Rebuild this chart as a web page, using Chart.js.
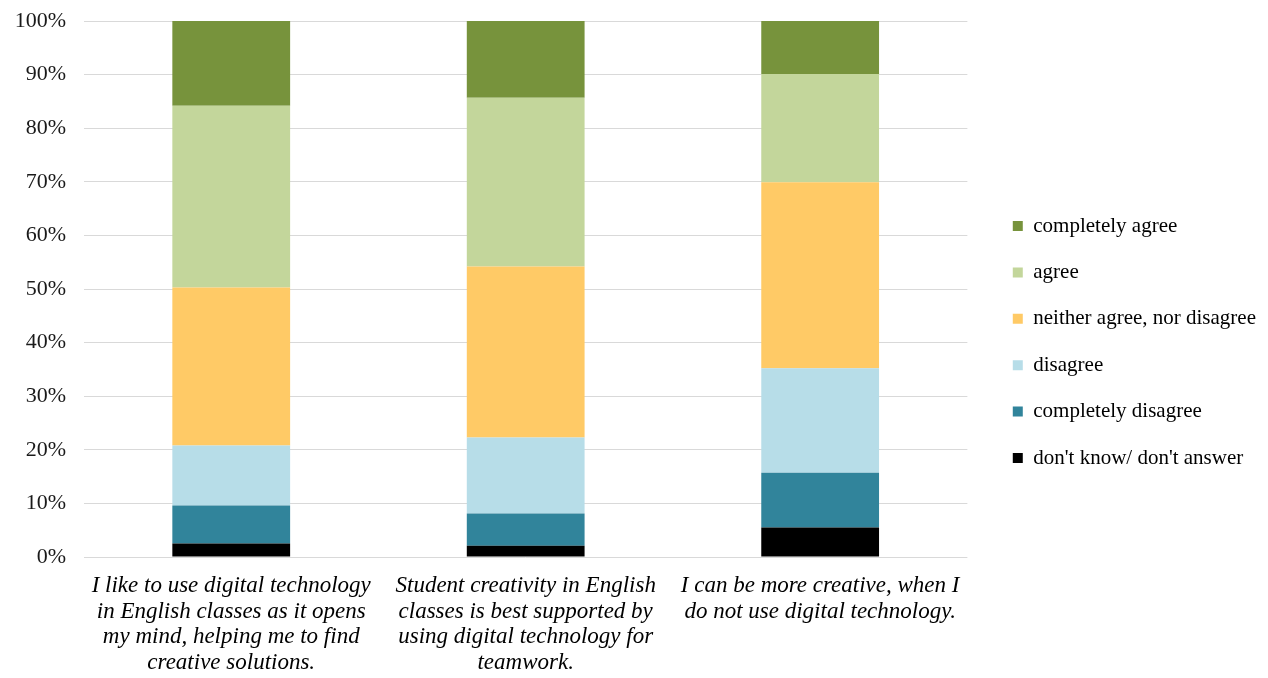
<!DOCTYPE html>
<html>
<head>
<meta charset="utf-8">
<script src="https://cdn.jsdelivr.net/npm/chart.js@4.4.1/dist/chart.umd.min.js"></script>
<style>
  html, body { margin: 0; padding: 0; background: #ffffff; }
  #wrap { width: 1268px; height: 678px; position: relative; }
</style>
</head>
<body>
<div id="wrap"><canvas id="chart"></canvas></div>
<script>
// Survey statements (x categories), wrapped onto several lines
const statements = [
  ["I like to use digital technology", "in English classes as it opens", "my mind, helping me to find", "creative solutions."],
  ["Student creativity in English", "classes is best supported by", "using digital technology for", "teamwork."],
  ["I can be more creative, when I", "do not use digital technology."]
];

// Answer options, from the bottom of each stack to the top
const responseLabels = [
  "don't know/ don't answer",
  "completely disagree",
  "disagree",
  "neither agree, nor disagree",
  "agree",
  "completely agree"
];

// Share of respondents per answer (%), one value per statement
const dontKnow           = [2.5, 2.1, 5.5];
const completelyDisagree = [7.1, 6.0, 10.2];
const disagree           = [11.2, 14.2, 19.5];
const neither            = [29.5, 31.9, 34.7];
const agree              = [33.9, 31.5, 20.2];
const completelyAgree    = [15.8, 14.3, 9.9];

// Percentage axis ticks
const percentTicks = [0, 10, 20, 30, 40, 50, 60, 70, 80, 90, 100];

const seriesValues = [dontKnow, completelyDisagree, disagree, neither, agree, completelyAgree];
const seriesColors = ["#000000", "#31849B", "#B7DDE8", "#FFCA66", "#C3D69B", "#77933C"];

const serif = "'Liberation Serif', 'Times New Roman', serif";

const datasets = responseLabels.map((label, i) => ({
  label: label,
  data: seriesValues[i],
  backgroundColor: seriesColors[i],
  borderWidth: 0,
  categoryPercentage: 1.0,
  barPercentage: 0.4
}));

// Leave a blank strip between the plot and the legend: the legend box reserves
// the space, then its contents are drawn a little further right (and nudged up
// so the column stays centred on the page rather than on the padded area).
const LEGEND_SHIFT_X = 20;
const LEGEND_SHIFT_Y = -7.5;
const legendGap = {
  id: "legendGap",
  afterLayout(chart) {
    const lg = chart.legend;
    if (lg) {
      lg.left += LEGEND_SHIFT_X;
      lg.right += LEGEND_SHIFT_X;
      lg.top += LEGEND_SHIFT_Y;
      lg.bottom += LEGEND_SHIFT_Y;
    }
  }
};

new Chart(document.getElementById("chart"), {
  type: "bar",
  data: { labels: statements, datasets: datasets },
  plugins: [legendGap],
  options: {
    responsive: true,
    maintainAspectRatio: false,
    animation: false,
    layout: { padding: { top: 21, right: 22, bottom: 0, left: 0 } },
    plugins: {
      tooltip: { enabled: false },
      legend: {
        position: "right",
        reverse: true,
        labels: {
          boxWidth: 10,
          boxHeight: 10,
          padding: 25.4,
          color: "#000000",
          font: { family: serif, size: 21 }
        }
      }
    },
    scales: {
      x: {
        stacked: true,
        grid: { display: false },
        border: { display: false },
        ticks: {
          color: "#000000",
          maxRotation: 0,
          autoSkip: false,
          padding: 8,
          font: { family: serif, size: 23, style: "italic", lineHeight: 1.12 }
        },
        afterFit: (scale) => { scale.height = 121; }
      },
      y: {
        stacked: true,
        min: 0,
        max: 100,
        afterBuildTicks: (scale) => { scale.ticks = percentTicks.map(v => ({ value: v })); },
        afterFit: (scale) => {
          scale.width = 84;
          scale.paddingTop = 0;
          scale.paddingBottom = 0;
        },
        grid: { color: "#d9d9d9", lineWidth: 1, drawTicks: false },
        border: { display: false },
        ticks: {
          color: "#1a1a1a",
          padding: 18,
          font: { family: serif, size: 22 },
          callback: (v) => v + "%"
        }
      }
    }
  }
});
</script>
</body>
</html>
